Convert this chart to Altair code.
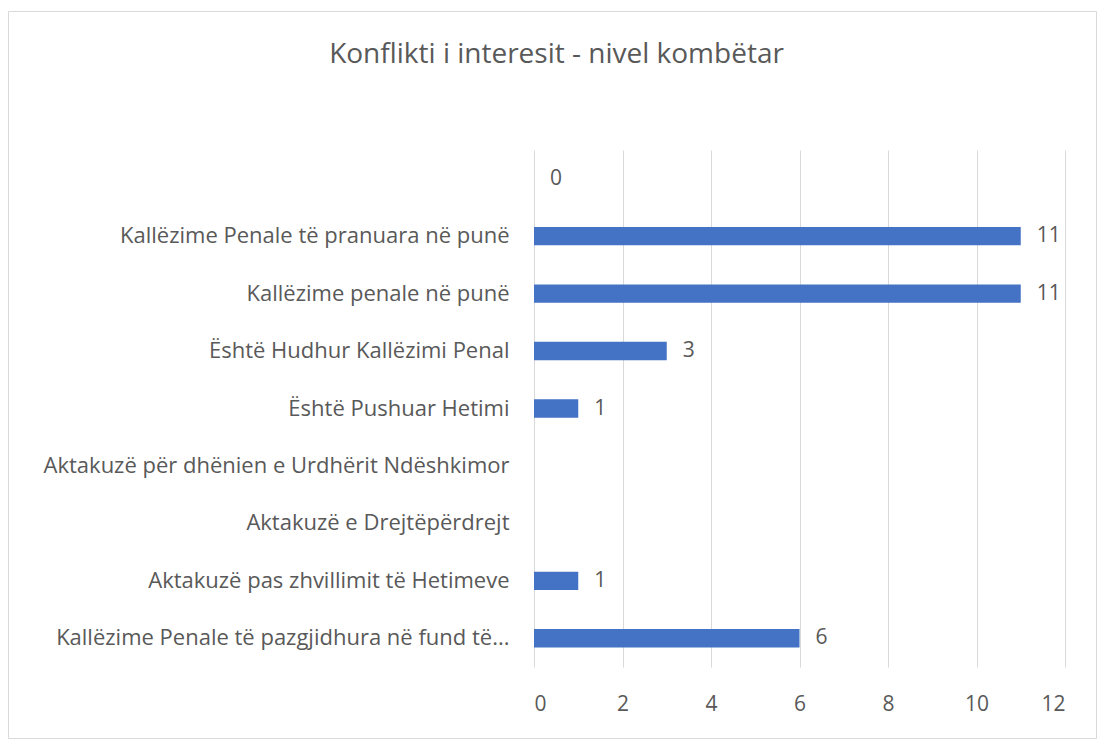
import altair as alt
import pandas as pd

title = "Konflikti i interesit - nivel kombëtar"
categories = [
    " ",
    "Kallëzime Penale të pranuara në punë ",
    "Kallëzime penale në punë",
    "Është Hudhur Kallëzimi  Penal",
    "Është Pushuar Hetimi",
    "Aktakuzë për dhënien e Urdhërit Ndëshkimor",
    "Aktakuzë e Drejtëpërdrejt",
    "Aktakuzë pas zhvillimit të Hetimeve",
    "Kallëzime Penale të pazgjidhura në fund të...",
]
values = [0, 11, 11, 3, 1, None, None, 1, 6]
x_ticks = [0, 2, 4, 6, 8, 10, 12]

df = pd.DataFrame({"cat": categories, "val": values})

FONT = "Open Sans"
GRAY = "#595959"
W, H = 531, 517
PAD_L, PAD_T, PAD_R, PAD_B = 526, 142, 32, 72

y_enc = alt.Y("cat:N", sort=categories, title=None,
              scale=alt.Scale(paddingInner=0.68, paddingOuter=0.34),
              axis=alt.Axis(domain=False, ticks=False, labelPadding=25,
                            labelFontSize=22, labelColor=GRAY, labelFont=FONT,
                            labelLimit=700))
x_enc = alt.X("val:Q", title=None,
              scale=alt.Scale(domain=[0, 12], nice=False),
              axis=alt.Axis(values=x_ticks, domain=False, ticks=False,
                            grid=True, gridColor="#d9d9d9", labelPadding=26,
                            labelFontSize=21, labelColor=GRAY, labelFont=FONT))

base = alt.Chart(df)
bars = base.mark_bar(color="#4472C4").encode(x=x_enc, y=y_enc)
labels = base.mark_text(align="left", dx=16, fontSize=21, color=GRAY,
                        font=FONT).encode(
    x="val:Q", y=alt.Y("cat:N", sort=categories), text="val:Q")

frame = alt.Chart(alt.Data(values=[{}])).mark_rect(
    fill=None, stroke="#d9d9d9", strokeWidth=1, clip=False).encode(
    x=alt.value(-PAD_L + 0.5), x2=alt.value(W + PAD_R - 0.5),
    y=alt.value(-PAD_T + 3.5), y2=alt.value(H + PAD_B - 0.5))

chart = alt.layer(frame, bars, labels).properties(
    width=W, height=H,
    background="white",
    title=alt.TitleParams(title, fontSize=28, font=FONT, color=GRAY,
                          fontWeight="normal", anchor="middle",
                          dx=-243, offset=-58),
    autosize=alt.AutoSizeParams(type="none"),
    padding={"left": PAD_L, "top": PAD_T, "right": PAD_R, "bottom": PAD_B},
).configure_view(stroke=None)

chart.save("out.html", embed_options={"renderer": "svg", "actions": False})
